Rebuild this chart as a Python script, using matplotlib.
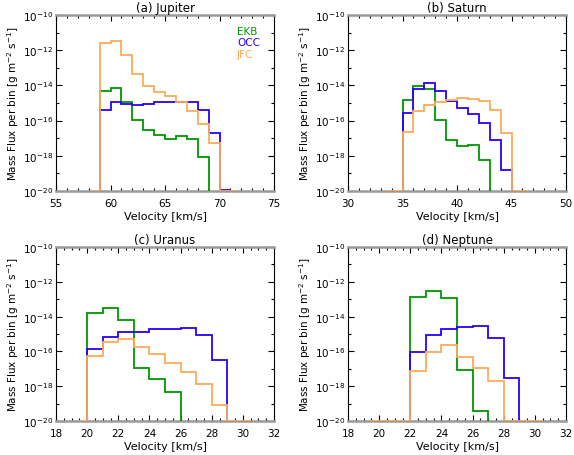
import numpy as np
import matplotlib
matplotlib.use('Agg')
import matplotlib.pyplot as plt
from matplotlib.ticker import FixedLocator, MultipleLocator, FuncFormatter, NullFormatter

FLOOR = 1e-20

# ---- data (log10 of mass flux per bin) ----
# (a) Jupiter
jup_ekb_edges = list(range(59, 70))
jup_ekb_log = [-14.29, -14.14, -14.92, -15.94, -16.53, -16.79, -17.02, -16.85, -17.06, -18.05]
jup_occ_edges = list(range(59, 72))
jup_occ_log = [-15.37, -14.92, -15.03, -15.14, -15.05, -14.92, -14.92, -14.92, -14.95, -15.41, -16.68, -19.94]
jup_jfc_edges = [58.5] + list(range(59, 71)) + [71.5]
jup_jfc_log = [-20, -11.61, -11.46, -12.28, -13.36, -14.06, -14.38, -14.63, -14.95, -15.48, -16.17, -17.25, -20]

# (b) Saturn
sat_ekb_edges = list(range(35, 44))
sat_ekb_log = [-14.84, -14.05, -14.23, -15.95, -17.09, -17.44, -17.38, -18.22]
sat_occ_edges = list(range(35, 46))
sat_occ_log = [-15.54, -14.23, -13.88, -14.34, -14.91, -15.26, -15.60, -16.16, -17.13, -18.80]
sat_jfc_edges = [33.5] + list(range(35, 46)) + [46.5]
sat_jfc_log = [-20, -16.62, -15.43, -15.09, -14.97, -14.82, -14.74, -14.78, -14.86, -15.37, -16.73, -20]

# (c) Uranus
ura_ekb_edges = list(range(20, 27))
ura_ekb_log = [-13.81, -13.52, -14.21, -16.98, -17.60, -18.31]
ura_occ_edges = list(range(20, 30))
ura_occ_log = [-15.88, -15.19, -14.90, -14.90, -14.73, -14.73, -14.67, -15.08, -16.48]
ura_jfc_edges = [19.5] + list(range(20, 30)) + [30.5]
ura_jfc_log = [-20, -16.29, -15.48, -15.31, -15.77, -16.17, -16.69, -17.21, -17.90, -19.10, -20]

# (d) Neptune
nep_ekb_edges = list(range(22, 30))
nep_ekb_log = [-12.87, -12.53, -12.91, -17.05, -19.41, -21.0, -20]
nep_occ_edges = list(range(22, 30))
nep_occ_log = [-16.02, -15.06, -14.71, -14.62, -14.56, -15.23, -17.53]
nep_jfc_edges = [19.5] + list(range(22, 29)) + [30.5]
nep_jfc_log = [-20, -17.13, -16.03, -15.63, -16.32, -16.95, -17.70, -20]

titles = ['(a) Jupiter', '(b) Saturn', '(c) Uranus', '(d) Neptune']
xlims = [(55, 75), (30, 50), (18, 32), (18, 32)]
xmajor = [5, 5, 2, 2]
xminor = [1, 1, 0.5, 0.5]
series_names = ['EKB', 'OCC', 'JFC']
colors = ['#009600', '#2800ff', '#ffaa5a']

panels = [
    [(jup_ekb_edges, jup_ekb_log), (jup_occ_edges, jup_occ_log), (jup_jfc_edges, jup_jfc_log)],
    [(sat_ekb_edges, sat_ekb_log), (sat_occ_edges, sat_occ_log), (sat_jfc_edges, sat_jfc_log)],
    [(ura_ekb_edges, ura_ekb_log), (ura_occ_edges, ura_occ_log), (ura_jfc_edges, ura_jfc_log)],
    [(nep_ekb_edges, nep_ekb_log), (nep_occ_edges, nep_occ_log), (nep_jfc_edges, nep_jfc_log)],
]

plt.rcParams['font.family'] = ['DejaVu Sans']
W, H = 574, 456
fig = plt.figure(figsize=(W / 100, H / 100), dpi=100)

boxes = [(56, 16, 274, 192), (348, 16, 566, 192), (56, 248, 274, 422), (348, 248, 566, 422)]

def fmt(y, pos):
    e = int(round(np.log10(y)))
    return r'$10^{%d}$' % e

for i, (x0, y0, x1, y1) in enumerate(boxes):
    ax = fig.add_axes([x0 / W, 1 - y1 / H, (x1 - x0) / W, (y1 - y0) / H])
    ax.set_yscale('log')
    for (edges, logv), c in zip(panels[i], colors):
        vals = 10.0 ** np.array(logv)
        ax.stairs(vals, edges, baseline=FLOOR, color=c, lw=1.3, zorder=3)
    ax.set_xlim(*xlims[i])
    ax.set_ylim(1e-20, 1e-10)
    ax.xaxis.set_major_locator(MultipleLocator(xmajor[i]))
    ax.xaxis.set_minor_locator(MultipleLocator(xminor[i]))
    ax.yaxis.set_major_locator(FixedLocator([10.0 ** e for e in range(-20, -9, 2)]))
    ax.yaxis.set_minor_locator(FixedLocator([10.0 ** e for e in range(-19, -10, 2)]))
    ax.yaxis.set_major_formatter(FuncFormatter(fmt))
    ax.yaxis.set_minor_formatter(NullFormatter())
    ax.tick_params(which='both', direction='in', top=True, right=True, labelsize=7.5)
    ax.tick_params(axis='x', which='major', pad=5)
    ax.tick_params(axis='y', which='major', pad=2)
    ax.tick_params(which='major', length=4, width=0.8)
    ax.tick_params(which='minor', length=2.5, width=0.8)
    for s in ['top', 'bottom']:
        ax.spines[s].set_color('#9a9a9a')
        ax.spines[s].set_linewidth(1.8)
    for s in ['left', 'right']:
        ax.spines[s].set_color('black')
        ax.spines[s].set_linewidth(0.8)
    ax.set_title(titles[i], fontsize=8.5, pad=3)
    ax.set_xlabel('Velocity [km/s]', fontsize=8, labelpad=2)
    ax.set_ylabel(r'Mass Flux per bin [g m$^{-2}$ s$^{-1}$]', fontsize=7.5)
    ax.yaxis.set_label_coords(-0.16, 0.5)
    if i == 0:
        for k, (name, c) in enumerate(zip(series_names, colors)):
            ax.text(0.83, 0.91 - k * 0.066, name, color=c, fontsize=7.5,
                    transform=ax.transAxes, va='center', ha='left')

fig.savefig('out.png', dpi=100)
